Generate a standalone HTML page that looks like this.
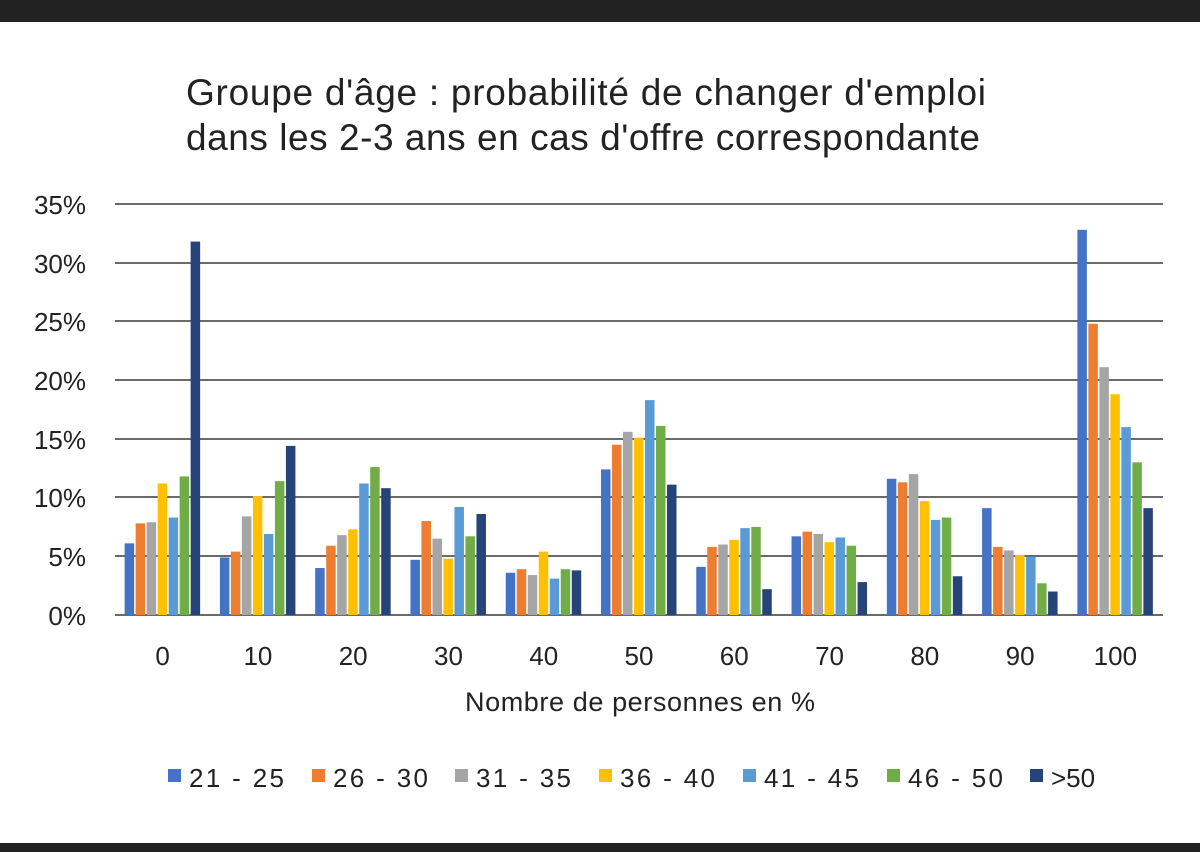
<!DOCTYPE html>
<html><head><meta charset="utf-8"><style>
html,body{margin:0;padding:0;background:#fff}
svg{display:block}
text{font-family:"Liberation Sans Narrow","Liberation Sans",sans-serif;fill:#222}
</style></head><body>
<svg width="1200" height="852" viewBox="0 0 1200 852" xmlns="http://www.w3.org/2000/svg">
<rect x="0" y="0" width="1200" height="22" fill="#222"/>
<rect x="0" y="843" width="1200" height="9" fill="#222"/>
<text x="186" y="105" font-size="37" textLength="800" lengthAdjust="spacing">Groupe d'âge : probabilité de changer d'emploi</text>
<text x="186" y="150" font-size="37" textLength="794" lengthAdjust="spacing">dans les 2-3 ans en cas d'offre correspondante</text>
<g stroke="#111" stroke-width="1.3">
<line x1="115" x2="1163" y1="204" y2="204"/><line x1="115" x2="1163" y1="263" y2="263"/>
<line x1="115" x2="1163" y1="321" y2="321"/><line x1="115" x2="1163" y1="380" y2="380"/>
<line x1="115" x2="1163" y1="439" y2="439"/><line x1="115" x2="1163" y1="497" y2="497"/>
<line x1="115" x2="1163" y1="556" y2="556"/><line x1="115" x2="1163" y1="615" y2="615"/>
</g>
<g font-size="26" text-anchor="end">
<text x="86" y="214">35%</text><text x="86" y="273">30%</text><text x="86" y="331">25%</text>
<text x="86" y="390">20%</text><text x="86" y="449">15%</text><text x="86" y="507">10%</text>
<text x="86" y="566">5%</text><text x="86" y="625">0%</text>
</g>
<g id="bars"></g>
<g font-size="26" text-anchor="middle" id="xl"></g>
<text x="640" y="711" font-size="27" text-anchor="middle" textLength="350" lengthAdjust="spacing">Nombre de personnes en %</text>
<g font-size="26" id="leg"></g>
<script>
var d=[[6.1,7.8,7.9,11.2,8.3,11.8,31.8],[4.9,5.4,8.4,10.1,6.9,11.4,14.4],[4.0,5.9,6.8,7.3,11.2,12.6,10.8],[4.7,8.0,6.5,4.8,9.2,6.7,8.6],[3.6,3.9,3.4,5.4,3.1,3.9,3.8],[12.4,14.5,15.6,15.1,18.3,16.1,11.1],[4.1,5.8,6.0,6.4,7.4,7.5,2.2],[6.7,7.1,6.9,6.2,6.6,5.9,2.8],[11.6,11.3,12.0,9.7,8.1,8.3,3.3],[9.1,5.8,5.5,5.1,5.0,2.7,2.0],[32.8,24.8,21.1,18.8,16.0,13.0,9.1]];
var c=["#4472C4","#ED7D31","#A5A5A5","#FFC000","#5B9BD5","#70AD47","#264478"];
var ns="http://www.w3.org/2000/svg",b=document.getElementById("bars"),xl=document.getElementById("xl"),lg=document.getElementById("leg");
var gw=(1163-115)/11;
for(var i=0;i<11;i++){var cx=115+gw*(i+0.5);
for(var j=0;j<7;j++){var h=d[i][j]*11.743,r=document.createElementNS(ns,"rect");
r.setAttribute("x",cx-38+j*11);r.setAttribute("width",9.5);r.setAttribute("y",615-h);r.setAttribute("height",h);r.setAttribute("fill",c[j]);b.appendChild(r);}
var t=document.createElementNS(ns,"text");t.setAttribute("x",cx);t.setAttribute("y",665);t.textContent=i*10;xl.appendChild(t);}
var L=["21 - 25","26 - 30","31 - 35","36 - 40","41 - 45","46 - 50",">50"],lx=[168,312,455,599,743,887,1030];
for(var k=0;k<7;k++){var r=document.createElementNS(ns,"rect");r.setAttribute("x",lx[k]);r.setAttribute("y",769);r.setAttribute("width",13);r.setAttribute("height",13);r.setAttribute("fill",c[k]);lg.appendChild(r);
var t=document.createElementNS(ns,"text");t.setAttribute("x",lx[k]+21);t.setAttribute("y",787);t.textContent=L[k];
if(k<6){t.setAttribute("textLength",95);t.setAttribute("lengthAdjust","spacing");}
lg.appendChild(t);}
</script>
</svg>
</body></html>
